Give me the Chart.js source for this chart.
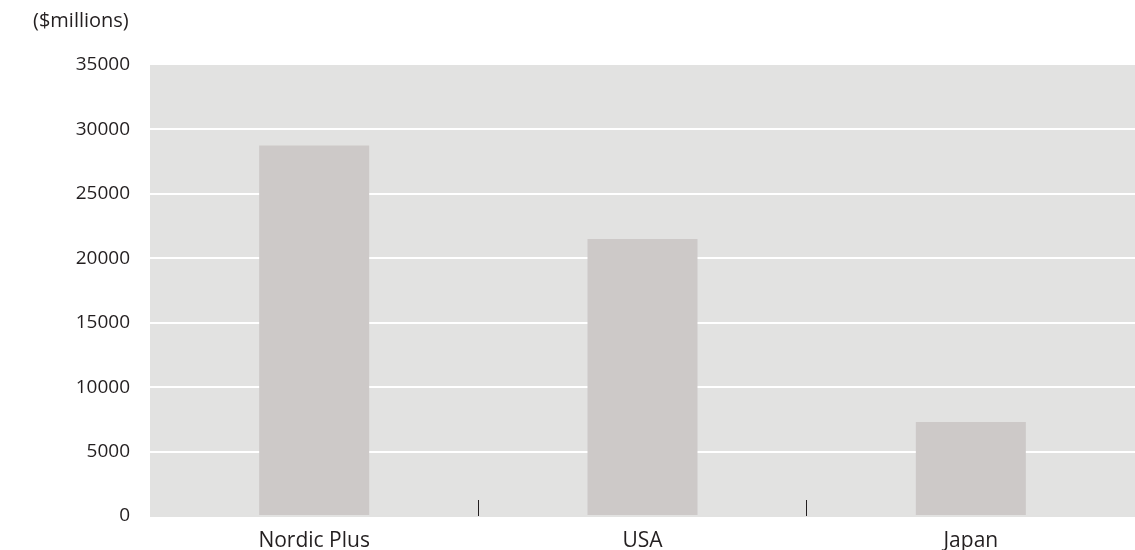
<!DOCTYPE html>
<html>
<head>
<meta charset="utf-8">
<script src="https://cdn.jsdelivr.net/npm/chart.js@4"></script>
<style>
  body { margin: 0; background: #fff; }
  #wrap { width: 1135px; height: 550px; position: relative; }
</style>
</head>
<body>
<div id="wrap"><canvas id="miCanvas"></canvas></div>
<script>
const categories = ["Nordic Plus", "USA", "Japan"];
const values = [28750, 21500, 7300];
const unitLabel = "($millions)";

const textColor = '#231f20';
const fontFamily = "'Open Sans', 'Noto Sans', sans-serif";

// gray plot background
const plotBg = {
    id: 'plotBg',
    beforeDraw(chart) {
        const a = chart.chartArea;
        const ctx = chart.ctx;
        ctx.save();
        ctx.fillStyle = '#e2e2e1';
        ctx.fillRect(a.left, a.top, a.right - a.left, a.bottom - a.top + 1);
        ctx.restore();
    }
};

const ctx = document.getElementById('miCanvas').getContext('2d');
window.miChart = new Chart(ctx, {
    type: 'bar',
    data: {
        labels: categories,
        datasets: [{
            data: values,
            backgroundColor: '#cdc9c8',
            borderWidth: 0,
            categoryPercentage: 1,
            barPercentage: 0.335
        }]
    },
    options: {
        responsive: true,
        maintainAspectRatio: false,
        animation: false,
        layout: { padding: { left: 33, right: 0, top: 0, bottom: 0 } },
        plugins: {
            legend: { display: false },
            tooltip: { enabled: false },
            title: {
                display: true,
                text: unitLabel,
                align: 'start',
                color: textColor,
                font: { family: fontFamily, size: 20, weight: 'normal' },
                padding: { top: 9, bottom: 32 }
            }
        },
        scales: {
            x: {
                offset: true,
                border: { display: false },
                afterFit: (s) => { s.height = 34; },
                grid: {
                    offset: true,
                    drawOnChartArea: false,
                    drawTicks: true,
                    tickLength: -16,
                    lineWidth: 1,
                    color: (c) => (c.index > 0 && c.index < categories.length) ? '#231f20' : 'rgba(0,0,0,0)'
                },
                ticks: {
                    color: textColor,
                    padding: 28,
                    font: { family: fontFamily, size: 21 }
                }
            },
            y: {
                min: 0,
                max: 35000,
                border: { display: false },
                afterFit: (s) => { s.width = 117; },
                grid: {
                    drawTicks: false,
                    lineWidth: 2,
                    color: (c) => (c.index > 0 && c.index < 7) ? '#ffffff' : 'rgba(0,0,0,0)'
                },
                ticks: {
                    stepSize: 5000,
                    padding: 20,
                    color: textColor,
                    font: { family: fontFamily, size: 19 },
                    callback: (v) => String(v)
                }
            }
        }
    },
    plugins: [plotBg]
});
</script>
</body>
</html>
